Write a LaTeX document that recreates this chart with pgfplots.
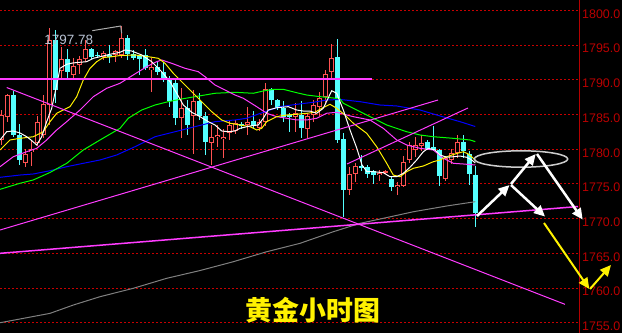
\documentclass[border=0pt]{standalone}
\usepackage{fontspec}
\setmainfont{Liberation Sans}
\newfontfamily\cjk{Noto Sans CJK SC}
\usepackage{pgfplots}
\usepackage{pgfplotstable}
\pgfplotsset{compat=1.18}
\usetikzlibrary{arrows.meta}

\definecolor{upred}{RGB}{255,82,82}
\definecolor{downcyan}{RGB}{84,255,255}
\definecolor{gridred}{RGB}{200,0,0}
\definecolor{axisred}{RGB}{180,0,0}
\definecolor{labelred}{RGB}{185,0,0}
\definecolor{mamag}{RGB}{255,60,255}
\definecolor{magreen}{RGB}{0,255,0}
\definecolor{mablue}{RGB}{0,0,255}
\definecolor{magray}{RGB}{128,128,128}
\definecolor{hilabel}{RGB}{185,195,212}
\definecolor{ringgray}{RGB}{205,205,205}

% hourly bars: x position, open, high, low, close
\pgfplotstableread{
x o h l c
1.3 1781.3 1785.6 1780.6 1784.9
7.3 1784.6 1788.0 1783.9 1787.8
25.3 1778.0 1780.1 1777.5 1779.3
31.3 1779.6 1781.3 1777.6 1780.0
37.3 1780.9 1784.8 1780.5 1784.0
43.3 1782.1 1787.8 1781.6 1786.5
49.3 1786.4 1797.5 1783.5 1795.7
61.3 1791.3 1794.8 1790.2 1793.0
73.3 1790.7 1793.1 1790.2 1792.0
79.3 1792.1 1793.4 1790.9 1793.0
85.3 1793.0 1795.7 1792.6 1794.4
103.3 1793.3 1794.2 1792.9 1793.9
115.3 1793.6 1794.3 1792.6 1794.1
121.3 1793.6 1797.78 1793.1 1796.0
151.3 1791.4 1793.1 1788.3 1791.8
181.3 1784.5 1788.8 1781.6 1785.9
193.3 1784.8 1788.5 1779.4 1787.0
211.3 1780.9 1783.5 1777.7 1781.7
217.3 1781.7 1783.5 1780.4 1782.0
223.3 1781.5 1783.0 1778.7 1781.8
229.3 1782.4 1784.2 1781.3 1783.5
235.3 1782.6 1784.2 1782.2 1783.8
247.3 1783.5 1786.1 1782.1 1784.0
259.3 1783.0 1784.4 1782.6 1784.0
265.3 1784.0 1789.5 1783.3 1788.7
295.3 1784.7 1786.6 1782.5 1785.2
307.3 1783.0 1785.2 1781.6 1784.8
313.3 1784.9 1787.1 1784.0 1786.4
319.3 1786.1 1788.3 1784.8 1787.4
325.3 1787.6 1791.4 1786.6 1790.9
331.3 1791.1 1795.1 1790.2 1793.2
349.3 1774.1 1777.4 1773.4 1776.5
355.3 1776.5 1778.0 1775.3 1777.6
379.3 1776.3 1777.0 1775.5 1776.6
385.3 1776.7 1777.0 1776.5 1776.8
397.3 1774.6 1775.3 1773.4 1774.9
403.3 1774.7 1779.0 1774.6 1778.2
409.3 1778.5 1781.1 1778.0 1780.6
415.3 1779.9 1781.8 1778.9 1780.6
421.3 1780.5 1782.1 1779.7 1780.9
445.3 1775.8 1779.0 1775.5 1778.7
451.3 1778.5 1780.0 1777.9 1779.5
457.3 1779.5 1782.1 1778.7 1781.1
}\upbars

\pgfplotstableread{
x o h l c
13.3 1787.8 1788.4 1781.8 1782.1
19.3 1782.1 1783.7 1777.7 1778.5
55.3 1795.7 1797.2 1786.7 1788.5
67.3 1793.0 1794.4 1790.0 1791.1
91.3 1794.4 1794.6 1793.0 1793.3
97.3 1793.6 1794.0 1793.2 1793.5
109.3 1793.6 1795.0 1792.4 1793.3
127.3 1796.1 1796.5 1792.9 1793.8
133.3 1793.8 1794.3 1792.9 1793.2
139.3 1793.5 1793.6 1790.7 1793.0
145.3 1793.6 1794.5 1791.4 1791.7
157.3 1791.9 1792.6 1790.7 1791.2
163.3 1791.2 1792.6 1789.7 1790.0
169.3 1790.0 1790.5 1786.1 1786.9
175.3 1789.5 1790.0 1783.5 1784.5
187.3 1785.9 1787.1 1782.1 1783.5
199.3 1787.0 1788.1 1784.2 1784.8
205.3 1784.8 1785.4 1779.2 1781.1
241.3 1783.6 1784.0 1782.9 1783.3
253.3 1784.1 1785.5 1783.0 1783.3
271.3 1788.7 1788.9 1786.4 1787.1
277.3 1787.1 1787.3 1785.7 1785.9
283.3 1785.9 1787.0 1784.0 1784.7
289.3 1784.9 1785.2 1782.5 1784.6
301.3 1784.9 1786.9 1781.6 1783.1
337.3 1793.3 1795.9 1780.9 1781.3
343.3 1781.5 1782.3 1770.2 1774.1
361.3 1777.6 1779.2 1776.8 1777.3
367.3 1777.4 1777.8 1775.8 1776.5
373.3 1776.8 1777.0 1775.0 1776.3
391.3 1775.8 1776.1 1774.0 1774.6
427.3 1781.1 1781.4 1779.9 1780.1
433.3 1780.4 1783.3 1779.7 1779.9
439.3 1779.9 1780.1 1774.7 1776.1
463.3 1781.1 1782.1 1778.7 1779.7
469.3 1779.4 1779.7 1774.9 1776.5
475.3 1776.3 1777.6 1768.8 1770.9
}\downbars

\pgfplotsset{
  bar part/.style 2 args={draw=none, mark=none, forget plot,
    error bars/.cd, y dir=both, y explicit, error mark=none,
    error bar style={draw=#1, line width=#2, line cap=butt}},
}

\begin{document}
\begin{tikzpicture}
\path[fill=black, use as bounding box] (0,0) rectangle (622bp,333bp);
\begin{axis}[
  at={(0,0)}, anchor=south west,
  scale only axis, width=579bp, height=333bp,
  xmin=0, xmax=579, ymin=1753.53, ymax=1801.51,
  clip=false,
  axis x line=none,
  axis y line*=right,
  y axis line style={draw=axisred, line width=1bp, -},
  xtick=\empty,
  ytick={1755,1760,...,1800},
  major tick length=0pt,
  ymajorgrids,
  major grid style={draw=gridred, line width=1bp, dash pattern=on 1.5bp off 2.5bp},
  yticklabel style={font=\fontsize{12.5}{14}\selectfont, text=labelred,
    anchor=west, inner sep=0pt, xshift=3bp, yshift=-3.5bp,
    /pgf/number format/.cd, fixed, fixed zerofill, precision=1, 1000 sep={},
    assume math mode=true},
]

% wicks
\addplot[bar part={upred}{1bp}] table[x=x, y expr=(\thisrow{h}+\thisrow{l})/2, y error expr=(\thisrow{h}-\thisrow{l})/2] {\upbars};
\addplot[bar part={downcyan}{1bp}] table[x=x, y expr=(\thisrow{h}+\thisrow{l})/2, y error expr=(\thisrow{h}-\thisrow{l})/2] {\downbars};
% bodies: hollow rising bars, filled falling bars
\addplot[bar part={upred}{4.5bp}] table[x=x, y expr=(\thisrow{o}+\thisrow{c})/2, y error expr={max(abs(\thisrow{c}-\thisrow{o})/2,0.08)}] {\upbars};
\addplot[bar part={black}{2.5bp}] table[x=x, y expr=(\thisrow{o}+\thisrow{c})/2, y error expr={max(abs(\thisrow{c}-\thisrow{o})/2-0.144,0)}] {\upbars};
\addplot[bar part={downcyan}{4.5bp}] table[x=x, y expr=(\thisrow{o}+\thisrow{c})/2, y error expr={max(abs(\thisrow{c}-\thisrow{o})/2,0.08)}] {\downbars};

% long moving average
\addplot[magray, line width=1bp, mark=none] coordinates {
(0,1755.01) (50,1756.36) (73.3,1757.56) (100,1758.76) (133.3,1759.97) (166.7,1761.41)
(200,1762.53) (233.3,1763.80) (266.7,1765.24) (300,1766.45) (333.3,1768.12) (360,1769.33)
(380,1769.95) (413.3,1771.00) (446.7,1771.83) (475.3,1772.45)};
% blue moving average
\addplot[mablue, line width=1bp, mark=none] coordinates {
(0,1775.96) (20,1776.29) (33.3,1776.44) (50,1776.91) (66.7,1777.49) (83.3,1777.98)
(100,1778.46) (116.7,1779.18) (135,1780.37) (155,1781.81) (175,1782.53) (195,1783.26)
(215,1783.98) (235,1784.22) (246.7,1784.47) (263.3,1785.33) (280,1786.14) (296.7,1786.48)
(313.3,1786.77) (326.7,1787.10) (340,1787.18) (360,1786.86) (380,1786.38) (396.7,1786.24)
(420,1785.66) (440,1784.80) (460,1783.98) (475.3,1783.28)};
% green moving average
\addplot[magreen, line width=1bp, mark=none] coordinates {
(0,1774.23) (20,1775.10) (33.3,1775.58) (50,1776.66) (66.7,1777.98) (83.3,1779.90)
(100,1781.34) (120,1783.02) (128.3,1784.47) (141.7,1785.66) (155,1786.38) (168.3,1786.86)
(181.7,1787.25) (195,1787.58) (215,1788.07) (235,1788.21) (253.3,1788.07) (263.3,1788.40)
(273.3,1788.64) (283.3,1788.64) (296.7,1788.15) (306.7,1787.82) (320,1787.58) (333.3,1787.39)
(340,1787.25) (343.3,1786.63) (356.7,1785.66) (370,1784.70) (386.7,1783.50) (406.7,1782.53)
(420,1782.06) (433.3,1781.81) (453.3,1781.58) (470,1781.34) (475.3,1781.10)};
% magenta moving average
\addplot[mamag, line width=1bp, mark=none] coordinates {
(0,1777.49) (13.3,1778.93) (26.7,1779.65) (36.7,1780.14) (46.7,1781.34) (56.7,1782.78)
(66.7,1783.98) (80,1785.66) (93.3,1787.58) (106.7,1788.79) (120,1789.51) (133.3,1790.71)
(146.7,1791.90) (156.7,1792.62) (161.7,1792.87) (171.7,1792.39) (185,1791.67) (198.3,1791.18)
(205,1790.46) (215,1789.26) (225,1788.54) (235,1787.82) (243.3,1787.35) (256.7,1786.14)
(266.7,1785.19) (276.7,1784.70) (286.7,1784.47) (296.7,1784.22) (306.7,1784.22) (316.7,1784.47)
(326.7,1785.19) (336.7,1785.33) (346.7,1784.94) (353.3,1784.70) (370,1784.22) (383.3,1783.02)
(396.7,1781.34) (406.7,1780.62) (420,1780.14) (433.3,1779.90) (443.3,1778.70) (453.3,1777.98)
(463.3,1777.88) (475.3,1777.74)};
% yellow moving average
\addplot[yellow, line width=1bp, mark=none] coordinates {
(0,1779.90) (10,1781.34) (20,1781.58) (33.3,1781.81) (43.3,1782.53) (50,1783.98)
(56.7,1785.19) (63.3,1785.66) (70,1786.14) (76.7,1787.58) (83.3,1789.99) (90,1791.67)
(96.7,1792.62) (103.3,1793.23) (110,1793.30) (120,1793.51) (135,1793.59) (148.3,1793.34)
(158.3,1793.11) (165,1792.39) (173.3,1790.95) (181.7,1789.74) (191.7,1788.30) (201.7,1786.86)
(211.7,1785.42) (221.7,1784.22) (230,1783.75) (240,1783.50) (250,1783.26) (256.7,1782.78)
(261.7,1783.02) (266.7,1783.98) (276.7,1784.70) (286.7,1784.94) (296.7,1785.04) (306.7,1785.19)
(315,1785.33) (321.7,1785.91) (330,1786.48) (336.7,1785.91) (345,1784.94) (353.3,1783.75)
(366.7,1782.30) (376.7,1780.37) (386.7,1777.98) (393.3,1776.29) (400,1776.05) (406.7,1776.77)
(413.3,1777.26) (423.3,1777.59) (433.3,1778.21) (440,1778.46) (446.7,1778.93) (455,1779.32)
(463.3,1779.65) (468.3,1779.32) (475.3,1778.46)};
% white moving average
\addplot[white, line width=1bp, mark=none] coordinates {
(0,1781.34) (6.7,1782.53) (13,1782.64) (20,1782.35) (26.7,1781.81) (31,1781.34)
(36.7,1780.62) (41.7,1781.81) (46.7,1783.98) (51.7,1785.91) (56.7,1789.26) (60,1791.67)
(66.7,1792.25) (73,1792.44) (80,1792.54) (86.7,1792.62) (93.3,1793.11) (100,1793.34)
(110,1793.69) (120,1793.98) (125,1794.31) (131.7,1794.16) (141.7,1793.59) (151.7,1792.62)
(161.7,1791.18) (170,1789.74) (176.7,1788.07) (183.3,1786.38) (191.7,1785.33) (200,1784.70)
(208.3,1783.98) (215,1783.50) (221.7,1782.64) (228.3,1782.53) (235,1782.64) (240,1783.02)
(250,1783.36) (258.3,1783.50) (263.3,1784.47) (268.3,1785.66) (276.7,1785.99) (288.3,1786.14)
(296.7,1785.66) (303.3,1785.51) (310,1785.51) (316.7,1785.19) (323.3,1785.91) (331.7,1788.44)
(336.7,1788.07) (343.3,1785.66) (350,1782.78) (356.7,1780.19) (362,1777.74) (367,1776.77)
(373.3,1776.77) (383.3,1776.63) (390,1776.05) (396.7,1776.05) (403.3,1776.54) (410,1777.41)
(416.7,1778.46) (423.3,1779.65) (428.3,1780.14) (435,1779.90) (440,1779.18) (446.7,1778.85)
(453.3,1778.93) (460,1779.03) (466.7,1778.85) (471.7,1778.46) (475.3,1778.03)};

% trend lines
\addplot[mamag, line width=1.5bp, mark=none] coordinates {(0,1790.12) (372,1790.12)};
\addplot[mamag, line width=1bp, mark=none] coordinates {(6.7,1788.90) (565,1757.66)};
\addplot[mamag, line width=1bp, mark=none] coordinates {(0,1768.37) (438,1787.10)};
\addplot[mamag, line width=1bp, mark=none] coordinates {(347,1777.88) (468,1785.95)};
\addplot[mamag, line width=1.5bp, mark=none] coordinates {(0,1765.01) (578,1771.75)};

% session high marker
\draw[color={rgb,255:red,170;green,170;blue,170}, line width=1bp]
  (axis cs:92.3,1797.09) -- (axis cs:120.7,1797.76) -- (axis cs:121.7,1796.71);
\node[text=hilabel, font=\fontsize{13.5}{15}\selectfont] at (axis cs:68.7,1795.79) {1797.78};

% projected path
\draw[ringgray, line width=1.5bp] (axis cs:521,1778.60) ellipse [x radius=46.7bp, y radius=8.2bp];
\begin{scope}[white, line width=2.5bp, -{Triangle[length=11bp, width=10bp]}]
  \draw (axis cs:477,1770.39) -- (axis cs:509.5,1774.85);
  \draw (axis cs:511,1775.00) -- (axis cs:535.7,1779.32);
  \draw (axis cs:511,1774.85) -- (axis cs:545,1770.31);
  \draw (axis cs:537,1779.32) -- (axis cs:582.7,1769.88);
\end{scope}
\begin{scope}[yellow, line width=2bp, -{Triangle[length=11bp, width=10bp]}]
  \draw (axis cs:544,1769.38) -- (axis cs:589.3,1759.87);
  \draw (axis cs:590,1759.87) -- (axis cs:611,1763.33);
\end{scope}

\node[text=yellow, font=\cjk\bfseries\fontsize{27}{30}\selectfont] at (axis cs:313,1756.84) {黄金小时图};
\end{axis}
\end{tikzpicture}
\end{document}
